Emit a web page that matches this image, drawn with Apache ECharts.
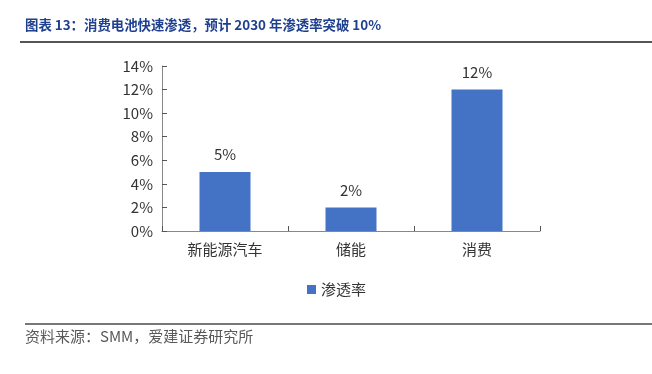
<!DOCTYPE html>
<html><head><meta charset="utf-8">
<script src="https://cdn.jsdelivr.net/npm/echarts@6/dist/echarts.min.js"></script>
<style>html,body{margin:0;padding:0;background:#fff}#c{width:652px;height:374px}</style>
</head><body><div id="c"></div>
<script>
const titleText = '图表 13：消费电池快速渗透，预计 2030 年渗透率突破 10%';
const sourceText = '资料来源：SMM，爱建证券研究所';
const categories = ['新能源汽车', '储能', '消费'];
const seriesName = '渗透率';
const values = [5, 2, 12];
const yMin = 0, yMax = 14, yStep = 2;

const font = '"Noto Sans CJK SC", "Noto Sans", sans-serif';
const chart = echarts.init(document.getElementById('c'), null, {renderer: 'canvas'});
chart.setOption({
  animation: false,
  textStyle: {fontFamily: font},
  title: {
    text: titleText, left: 20, top: 13,
    textStyle: {fontFamily: font, fontSize: 13.4, fontWeight: 'bold', color: '#1f3f8f'}
  },
  graphic: [
    {type: 'line', shape: {x1: 20, y1: 42, x2: 652, y2: 42}, style: {stroke: '#555', lineWidth: 2}},
    {type: 'line', shape: {x1: 25, y1: 324, x2: 652, y2: 324}, style: {stroke: '#777', lineWidth: 2}},
    {type: 'text', left: 25, top: 329, style: {text: sourceText, fontFamily: font, fontSize: 15, fill: '#595959'}}
  ],
  legend: {
    data: [seriesName], left: 302, top: 277, itemWidth: 9, itemHeight: 9, itemGap: 6,
    icon: 'rect', textStyle: {fontFamily: font, fontSize: 15, color: '#333'}
  },
  grid: {left: 162, top: 66, width: 378, height: 165, containLabel: false},
  xAxis: {
    type: 'category', data: categories,
    axisLine: {lineStyle: {color: '#888', width: 1}},
    axisTick: {show: true, inside: true, length: 5, alignWithLabel: false, lineStyle: {color: '#555'}},
    axisLabel: {fontFamily: font, fontSize: 15, color: '#333', margin: 11}
  },
  yAxis: {
    type: 'value', min: yMin, max: yMax, interval: yStep,
    splitLine: {show: false},
    axisLine: {show: true, lineStyle: {color: '#888', width: 1}},
    axisTick: {show: true, inside: true, length: 5, lineStyle: {color: '#555'}},
    axisLabel: {formatter: v => v + '%', fontFamily: font, fontSize: 15, color: '#333', margin: 9}
  },
  series: [{
    name: seriesName, type: 'bar', data: values, barWidth: 51,
    itemStyle: {color: '#4472c4'},
    label: {show: true, position: 'top', distance: 10, formatter: p => p.value + '%', fontFamily: font, fontSize: 15, color: '#333'}
  }]
});
</script></body></html>
